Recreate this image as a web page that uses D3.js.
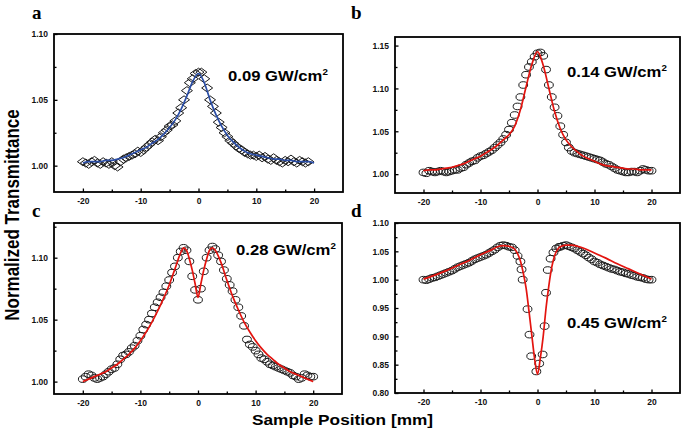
<!DOCTYPE html>
<html>
<head>
<meta charset="utf-8">
<script src="https://cdn.jsdelivr.net/npm/d3@7"></script>
<style>
  body { margin: 0; background: #fff; }
  svg { display: block; }
</style>
</head>
<body>
<div id="app"></div>
<script>
// sample positions (mm), 0.5 mm grid used by panels a, b, c
const gridX = [
  -20, -19.5, -19, -18.5, -18, -17.5, -17, -16.5, -16, -15.5,
  -15, -14.5, -14, -13.5, -13, -12.5, -12, -11.5, -11, -10.5,
  -10, -9.5, -9, -8.5, -8, -7.5, -7, -6.5, -6, -5.5,
  -5, -4.5, -4, -3.5, -3, -2.5, -2, -1.5, -1, -0.5,
  0, 0.5, 1, 1.5, 2, 2.5, 3, 3.5, 4, 4.5,
  5, 5.5, 6, 6.5, 7, 7.5, 8, 8.5, 9, 9.5,
  10, 10.5, 11, 11.5, 12, 12.5, 13, 13.5, 14, 14.5,
  15, 15.5, 16, 16.5, 17, 17.5, 18, 18.5, 19, 19.5,
  20
];

// fit positions, 1 mm grid (panels a, b)
const fitX = [
  -20, -19, -18, -17, -16, -15, -14, -13, -12, -11,
  -10, -9, -8, -7, -6, -5, -4, -3, -2, -1,
  0, 1, 2, 3, 4, 5, 6, 7, 8, 9,
  10, 11, 12, 13, 14, 15, 16, 17, 18, 19, 20
];

// a : 0.09 GW/cm2 (measured, -20 .. 19 mm)
const transA = [
  1.003, 1.002, 1.001, 1.003, 1.004, 1.002, 1.001, 1.003, 1.002, 1.001,
  1.003, 1.000, 0.999, 1.003, 1.005, 1.006, 1.007, 1.008, 1.009, 1.011,
  1.010, 1.012, 1.014, 1.016, 1.018, 1.020, 1.019, 1.022, 1.025, 1.027,
  1.030, 1.031, 1.034, 1.040, 1.044, 1.050, 1.057, 1.063, 1.066, 1.070,
  1.071, 1.071, 1.066, 1.059, 1.050, 1.045, 1.040, 1.033, 1.029, 1.025,
  1.022, 1.019, 1.017, 1.015, 1.013, 1.012, 1.010, 1.009, 1.008, 1.008,
  1.007, 1.008, 1.006, 1.007, 1.005, 1.004, 1.006, 1.004, 1.003, 1.002,
  1.004, 1.003, 1.005, 1.003, 1.002, 1.004, 1.003, 1.002, 1.003
];
const fitA = [
  1.002, 1.003, 1.003, 1.003, 1.004, 1.004, 1.005, 1.006, 1.008, 1.010,
  1.012, 1.014, 1.017, 1.020, 1.024, 1.029, 1.035, 1.043, 1.053, 1.064,
  1.070, 1.063, 1.050, 1.039, 1.030, 1.023, 1.018, 1.014, 1.011, 1.009,
  1.008, 1.007, 1.006, 1.005, 1.005, 1.004, 1.004, 1.003, 1.003, 1.003, 1.002
];

// b : 0.14 GW/cm2
const transB = [
  1.002, 1.001, 1.004, 1.003, 1.002, 1.003, 1.004, 1.003, 1.002, 1.003,
  1.004, 1.005, 1.005, 1.007, 1.008, 1.011, 1.013, 1.015, 1.016, 1.019,
  1.021, 1.022, 1.024, 1.026, 1.028, 1.031, 1.034, 1.037, 1.041, 1.046,
  1.052, 1.060, 1.069, 1.079, 1.090, 1.104, 1.116, 1.125, 1.131, 1.137,
  1.141, 1.142, 1.138, 1.122, 1.104, 1.090, 1.078, 1.068, 1.056, 1.046,
  1.037, 1.031, 1.027, 1.025, 1.024, 1.023, 1.022, 1.021, 1.020, 1.019,
  1.018, 1.017, 1.016, 1.014, 1.012, 1.011, 1.009, 1.007, 1.005, 1.004,
  1.003, 1.002, 1.002, 1.003, 1.003, 1.002, 1.004, 1.006, 1.005, 1.004,
  1.004
];
const fitB = [
  1.004, 1.005, 1.005, 1.006, 1.007, 1.008, 1.010, 1.012, 1.015, 1.018,
  1.021, 1.025, 1.029, 1.034, 1.040, 1.046, 1.056, 1.075, 1.102, 1.128,
  1.143, 1.127, 1.100, 1.073, 1.053, 1.040, 1.032, 1.026, 1.021, 1.018,
  1.015, 1.012, 1.010, 1.009, 1.008, 1.007, 1.006, 1.006, 1.005, 1.005, 1.005
];

// c : 0.28 GW/cm2
const transC = [
  1.002, 1.004, 1.006, 1.005, 1.003, 1.002, 1.003, 1.004, 1.006, 1.008,
  1.010, 1.011, 1.014, 1.018, 1.021, 1.022, 1.024, 1.027, 1.029, 1.033,
  1.037, 1.042, 1.046, 1.050, 1.055, 1.060, 1.064, 1.068, 1.072, 1.077,
  1.082, 1.088, 1.093, 1.100, 1.105, 1.108, 1.106, 1.097, 1.085, 1.074,
  1.066, 1.075, 1.089, 1.100, 1.106, 1.109, 1.107, 1.102, 1.097, 1.090,
  1.083, 1.078, 1.073, 1.066, 1.060, 1.053, 1.045, 1.034, 1.030, 1.028,
  1.025, 1.022, 1.019, 1.018, 1.016, 1.014, 1.013, 1.012, 1.011, 1.010,
  1.009, 1.008, 1.007, 1.005, 1.004, 1.002, 1.003, 1.006, 1.005, 1.004,
  1.004
];
const fitCX = [
  -20, -19, -18, -17, -16, -15, -14, -13, -12, -11, -10, -9, -8, -7, -6, -5, -4, -3,
  -2.5, -2, -1.5, -1, -0.5, 0, 0.5, 1, 1.5, 2, 2.5,
  3, 4, 5, 6, 7, 8, 9, 10, 11, 12, 13, 14, 15, 16, 17, 18, 19, 20
];
const fitC = [
  1.000, 1.002, 1.004, 1.006, 1.008, 1.011, 1.014, 1.018, 1.022, 1.027, 1.033, 1.040, 1.048, 1.057, 1.067, 1.078, 1.091, 1.104,
  1.108, 1.106, 1.099, 1.090, 1.079, 1.068, 1.079, 1.090, 1.099, 1.106, 1.108,
  1.106, 1.096, 1.082, 1.069, 1.058, 1.048, 1.040, 1.033, 1.027, 1.022, 1.018, 1.014, 1.011, 1.008, 1.006, 1.004, 1.002, 1.000
];

// d : 0.45 GW/cm2
const posD = [
  -20, -19.5, -19, -18.5, -18, -17.5, -17, -16.5, -16, -15.5,
  -15, -14.5, -14, -13.5, -13, -12.5, -12, -11.5, -11, -10.5,
  -10, -9.5, -9, -8.5, -8, -7.5, -7, -6.5, -6, -5.5,
  -5, -4.5, -4, -3.5, -3,
  -2.8, -2.6, -1.75, -1.4, -1.1, -0.2, 0.3, 0.9, 1.25, 1.5, 1.8, 2.3, 2.8, 3.3, 3.8,
  4, 4.5, 5, 5.5, 6, 6.5, 7, 7.5, 8, 8.5,
  9, 9.5, 10, 10.5, 11, 11.5, 12, 12.5, 13, 13.5,
  14, 14.5, 15, 15.5, 16, 16.5, 17, 17.5, 18, 18.5,
  19, 19.5, 20
];
const transD = [
  1.000, 0.999, 1.001, 1.003, 1.004, 1.006, 1.008, 1.010, 1.012, 1.014,
  1.016, 1.019, 1.022, 1.024, 1.026, 1.028, 1.030, 1.033, 1.036, 1.038,
  1.040, 1.042, 1.044, 1.047, 1.050, 1.053, 1.057, 1.060, 1.061, 1.060,
  1.058, 1.057, 1.052, 1.042, 1.032,
  1.018, 1.000, 0.948, 0.903, 0.865, 0.838, 0.852, 0.868, 0.918, 0.977, 1.017, 1.037, 1.048, 1.055, 1.058,
  1.058, 1.060, 1.061, 1.059, 1.057, 1.055, 1.052, 1.049, 1.046, 1.043,
  1.039, 1.036, 1.032, 1.030, 1.027, 1.025, 1.023, 1.021, 1.019, 1.018,
  1.016, 1.014, 1.013, 1.011, 1.010, 1.008, 1.007, 1.005, 1.004, 1.003,
  1.001, 1.000, 1.000
];
const fitDX = [
  -20, -18, -16, -14, -12, -10, -8, -7, -6, -5, -4, -3.5, -3, -2.5, -2, -1.5, -1, -0.5,
  0, 0.5, 1, 1.5, 2, 2.5, 3, 3.5, 4, 5, 6, 7, 8, 10, 12, 14, 16, 18, 20
];
const fitD = [
  1.001, 1.008, 1.016, 1.025, 1.034, 1.044, 1.053, 1.058, 1.060, 1.059, 1.054, 1.046, 1.033, 1.012, 0.985, 0.945, 0.902, 0.860,
  0.833, 0.862, 0.900, 0.950, 0.990, 1.022, 1.042, 1.053, 1.058, 1.061, 1.061, 1.059, 1.056, 1.047, 1.038, 1.028, 1.019, 1.010, 1.001
];

// axis ticks
const xMajor = [-20, -10, 0, 10, 20];
const xMinor = [-15, -5, 5, 15];
const yMajorA = [1.00, 1.05, 1.10];
const yMinorA = [1.025, 1.075];
const yMajorB = [1.00, 1.05, 1.10, 1.15];
const yMinorB = [1.025, 1.075, 1.125];
const yMajorC = [1.00, 1.05, 1.10];
const yMinorC = [1.025, 1.075, 1.125];
const yMajorD = [0.80, 0.85, 0.90, 0.95, 1.00, 1.05, 1.10];
const yMinorD = [0.825, 0.875, 0.925, 0.975, 1.025, 1.075];

const labels = ['a', 'b', 'c', 'd'];
const intensities = ['0.09', '0.14', '0.28', '0.45'];

const W = 685, H = 430;
const stretch = 1.15; // the scan is a bit wider than tall

const svg = d3.select('#app').append('svg')
  .attr('width', W).attr('height', H)
  .attr('viewBox', `0 0 ${W} ${H}`);

const panels = [
  { box: [54, 34, 343, 192], yDom: [0.98, 1.10], major: yMajorA, minor: yMinorA,
    x: gridX.slice(0, transA.length), y: transA, fx: fitX, fy: fitA,
    marker: 'diamond', color: '#2b4ea6', note: [228, 81], tag: [32, 19] },
  { box: [395, 37, 680, 193], yDom: [0.978, 1.16], major: yMajorB, minor: yMinorB,
    x: gridX, y: transB, fx: fitX, fy: fitB,
    marker: 'circle', color: '#e3140f', note: [567, 77], tag: [351, 19] },
  { box: [54, 223, 342, 394], yDom: [0.99, 1.128], major: yMajorC, minor: yMinorC,
    x: gridX, y: transC, fx: fitCX, fy: fitC,
    marker: 'circle', color: '#e3140f', note: [236, 255], tag: [32, 217] },
  { box: [395, 223, 680, 393], yDom: [0.80, 1.10], major: yMajorD, minor: yMinorD,
    x: posD, y: transD, fx: fitDX, fy: fitD,
    marker: 'circle', color: '#e3140f', note: [567, 328], tag: [351, 217] }
];

const font = 'Liberation Sans, Arial, sans-serif';

panels.forEach((p, i) => {
  const [x0, y0, x1, y1] = p.box;
  const xs = d3.scaleLinear().domain([-25, 25]).range([x0, x1]);
  const ys = d3.scaleLinear().domain(p.yDom).range([y1, y0]);
  const g = svg.append('g');

  // data markers
  const pts = p.x.map((v, k) => [v, p.y[k]]);
  const mk = g.append('g')
    .attr('fill', 'none')
    .attr('stroke', '#1a1a1a')
    .attr('stroke-width', 1);
  if (p.marker === 'diamond') {
    mk.selectAll('path').data(pts).join('path')
      .attr('d', d => {
        const cx = xs(d[0]), cy = ys(d[1]);
        return `M${cx - 5.5},${cy}L${cx},${cy - 4}L${cx + 5.5},${cy}L${cx},${cy + 4}Z`;
      });
  } else {
    mk.selectAll('ellipse').data(pts).join('ellipse')
      .attr('cx', d => xs(d[0]))
      .attr('cy', d => ys(d[1]))
      .attr('rx', 4.4).attr('ry', 3.3);
  }

  // fit curve
  const line = d3.line()
    .x(d => xs(d[0])).y(d => ys(d[1]))
    .curve(d3.curveMonotoneX);
  g.append('path')
    .datum(p.fx.map((v, k) => [v, p.fy[k]]))
    .attr('d', line)
    .attr('fill', 'none')
    .attr('stroke', p.color)
    .attr('stroke-width', 1.7);

  // frame
  g.append('rect')
    .attr('x', x0).attr('y', y0)
    .attr('width', x1 - x0).attr('height', y1 - y0)
    .attr('fill', 'none').attr('stroke', '#000').attr('stroke-width', 1.8);

  // x axis (ticks point inward)
  g.append('g').attr('transform', `translate(0,${y1})`)
    .call(d3.axisBottom(xs).tickValues(xMajor).tickSize(-3.5).tickPadding(6)
      .tickFormat(d => String(d)));
  g.append('g').attr('transform', `translate(0,${y1})`)
    .call(d3.axisBottom(xs).tickValues(xMinor).tickSize(-2.5).tickFormat(''));

  // y axis
  g.append('g').attr('transform', `translate(${x0},0)`)
    .call(d3.axisLeft(ys).tickValues(p.major).tickSize(-3.5).tickPadding(6)
      .tickFormat(d3.format('.2f')));
  g.append('g').attr('transform', `translate(${x0},0)`)
    .call(d3.axisLeft(ys).tickValues(p.minor).tickSize(-2.5).tickFormat(''));

  g.selectAll('.domain').remove();
  g.selectAll('.tick line').attr('stroke', '#000').attr('stroke-width', 1.3);
  g.selectAll('.tick text')
    .attr('font-family', font).attr('font-size', 8.5)
    .attr('font-weight', 'bold').attr('fill', '#111');

  // intensity note
  const note = g.append('text')
    .attr('transform', `translate(${p.note[0]},${p.note[1]}) scale(${stretch},1)`)
    .attr('font-family', font).attr('font-size', 14.5)
    .attr('font-weight', 'bold').attr('fill', '#000');
  note.append('tspan').text(`${intensities[i]} GW/cm`);
  note.append('tspan').attr('font-size', 8.5).attr('dy', -6.5).text('2');

  // panel letter
  g.append('text')
    .attr('x', p.tag[0]).attr('y', p.tag[1])
    .attr('font-family', 'Liberation Serif, Times New Roman, serif')
    .attr('font-size', 19).attr('font-weight', 'bold')
    .text(labels[i]);
});

// axis titles
svg.append('text')
  .attr('transform', `translate(${W / 2},425) scale(${stretch},1)`)
  .attr('text-anchor', 'middle')
  .attr('font-family', font).attr('font-size', 15).attr('font-weight', 'bold')
  .text('Sample Position [mm]');

svg.append('text')
  .attr('transform', `translate(19,215) rotate(-90) scale(1,${stretch})`)
  .attr('text-anchor', 'middle')
  .attr('font-family', font).attr('font-size', 17).attr('font-weight', 'bold')
  .text('Normalized Transmittance');
</script>
</body>
</html>
